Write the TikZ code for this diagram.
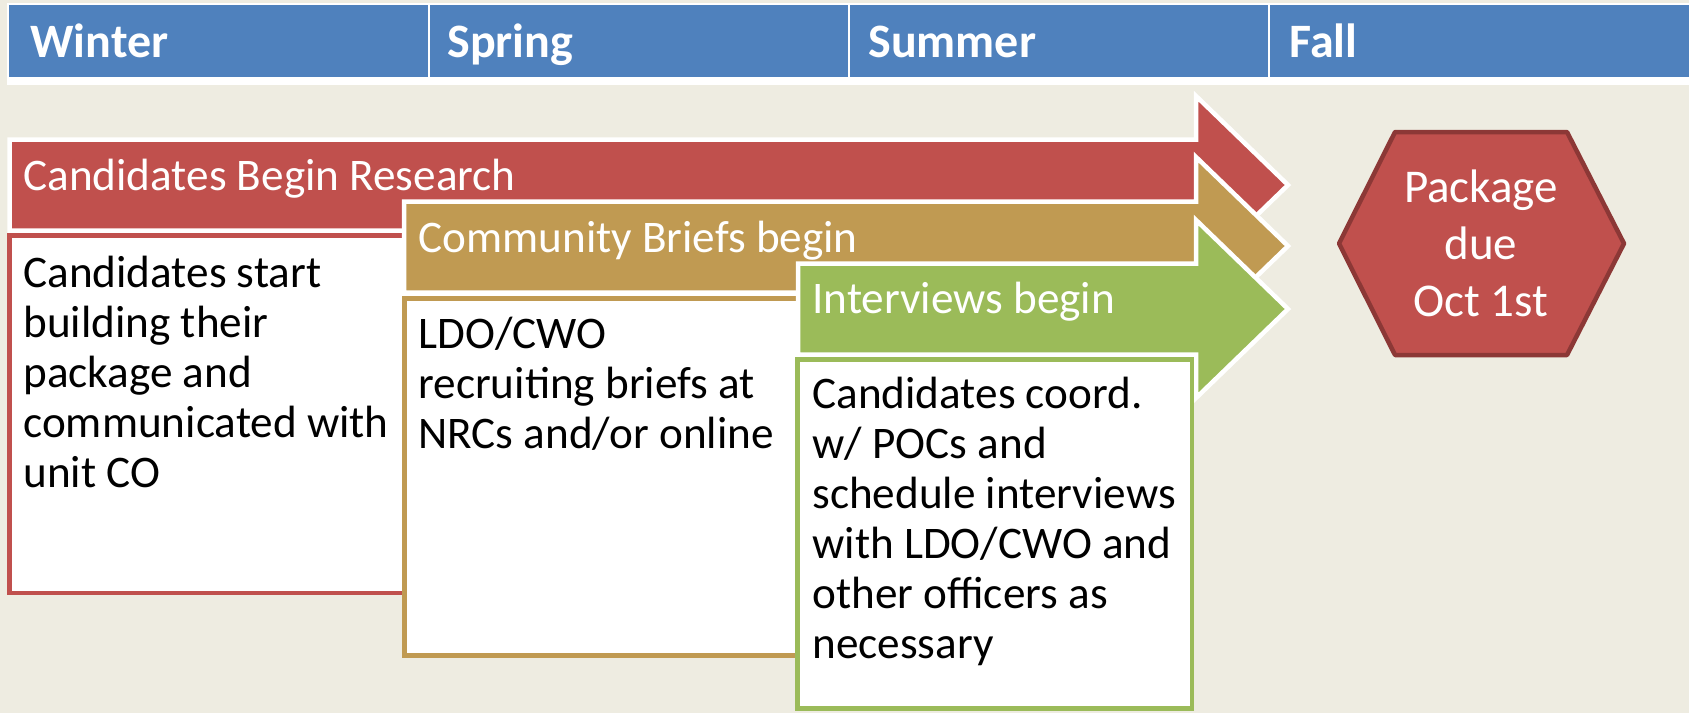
\documentclass[tikz,border=0pt]{standalone}
\usepackage{fontspec}
\setmainfont{Carlito}

\definecolor{hdrblue}{HTML}{4F81BD}
\definecolor{redfill}{HTML}{C0504D}
\definecolor{tanfill}{HTML}{C09A52}
\definecolor{greenfill}{HTML}{9BBB59}
\definecolor{paper}{HTML}{EEECE1}
\definecolor{hexline}{HTML}{8C3836}

\begin{document}
\begin{tikzpicture}[x=0.5pt, y=-0.5pt,
        band/.style={draw=white, line width=2.25pt, line join=miter},
        note/.style={fill=white, line width=2.25pt},
        season/.style={anchor=base west, inner sep=0pt, text=white, font=\fontsize{24}{25}\selectfont\bfseries},
        lbl/.style={anchor=base west, inner sep=0pt, text=white, font=\fontsize{22.6}{25}\selectfont},
        memo/.style={anchor=base west, inner sep=0pt, align=left, font=\fontsize{22.6}{25}\selectfont}]

    % 背景
    \useasboundingbox (0, 0) rectangle (1689, 713);
    \fill[paper] (0, 0) rectangle (1689, 713);

    % 見出し
    \fill[white] (7, 3) rectangle (1689, 85);
    \fill[hdrblue] (9, 5) rectangle (428, 77);
    \fill[hdrblue] (430, 5) rectangle (848, 77);
    \fill[hdrblue] (850, 5) rectangle (1268, 77);
    \fill[hdrblue] (1270, 5) rectangle (1689, 77);
    \node[season] (winter) at (30, 57) {Winter};
    \node[season] (spring) at (447, 57) {Spring};
    \node[season] (summer) at (868, 57) {Summer};
    \node[season] (fall) at (1289, 57) {Fall};

    % 研究
    \filldraw[band, fill=redfill] (9.5, 139.5)--(1196, 139.5)--(1196, 96)--(1288, 185)
        --(1196, 274)--(1196, 230.5)--(9.5, 230.5)--cycle;
    \filldraw[note, draw=redfill] (9.5, 235.5) rectangle (1192, 593);
    \node[lbl] (research) at (23, 190) {Candidates Begin Research};
    \node[memo] (researchtxt) at (23, 487) {Candidates start\\building their\\package and\\communicated with\\unit CO};

    % 説明会
    \filldraw[band, fill=tanfill] (404, 201.5)--(1196, 201.5)--(1196, 157)--(1288, 246)
        --(1196, 335)--(1196, 292.5)--(404, 292.5)--cycle;
    \filldraw[note, draw=tanfill] (404.5, 298.5) rectangle (1192, 655.5);
    \node[lbl] (briefs) at (418, 252) {Community Briefs begin};
    \node[memo] (briefstxt) at (418, 448) {LDO/CWO\\recruiting briefs at\\NRCs and/or online};

    % 面接
    \filldraw[band, fill=greenfill] (798, 263.5)--(1196, 263.5)--(1196, 220)--(1288, 309)
        --(1196, 398)--(1196, 354.5)--(798, 354.5)--cycle;
    \filldraw[note, draw=greenfill] (797.5, 359.5) rectangle (1192, 708.5);
    \node[lbl] (interviews) at (812, 313) {Interviews begin};
    \node[memo] (interviewstxt) at (812, 658) {Candidates coord.\\w/ POCs and\\schedule interviews\\with LDO/CWO and\\other officers as\\necessary};

    % 締切
    \filldraw[fill=redfill, draw=hexline, line width=2.25pt, line join=round]
        (1339, 243.5)--(1395, 132)--(1567, 132)--(1624, 243.5)--(1567, 355)--(1395, 355)--cycle;
    \node[anchor=base, inner sep=0pt, align=center, text=white, font=\fontsize{23.5}{28.5}\selectfont]
        (due) at (1481, 316) {Package\\due\\Oct 1st};

\end{tikzpicture}
\end{document}
